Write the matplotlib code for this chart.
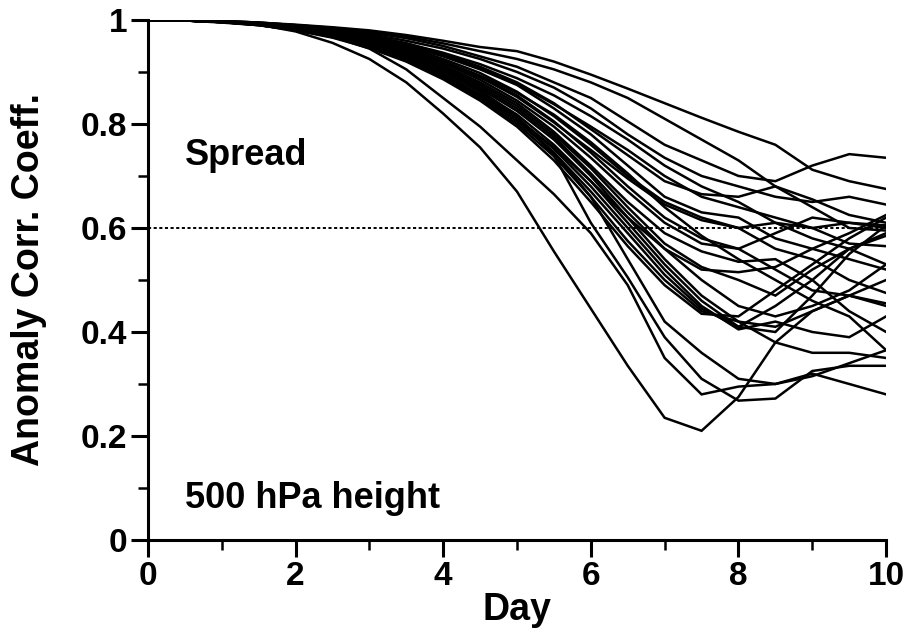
import matplotlib
matplotlib.use("Agg")
import matplotlib.pyplot as plt
from matplotlib.ticker import MultipleLocator

plt.rcParams['font.family'] = ['Liberation Sans', 'DejaVu Sans']
plt.rcParams['font.weight'] = 'bold'

# forecast day (every half day)
days = [0, 0.5, 1, 1.5, 2, 2.5, 3, 3.5, 4, 4.5, 5,
        5.5, 6, 6.5, 7, 7.5, 8, 8.5, 9, 9.5, 10]

# anomaly correlation of each ensemble member
m01 = [1.000, 0.999, 0.998, 0.995, 0.991, 0.986, 0.980, 0.971, 0.960, 0.948, 0.940,
       0.920, 0.895, 0.868, 0.840, 0.812, 0.785, 0.760, 0.712, 0.690, 0.675]
m02 = [1.000, 0.999, 0.998, 0.995, 0.990, 0.985, 0.978, 0.968, 0.955, 0.940, 0.925,
       0.905, 0.880, 0.850, 0.810, 0.770, 0.730, 0.680, 0.655, 0.625, 0.610]
m03 = [1.000, 0.999, 0.998, 0.995, 0.990, 0.984, 0.976, 0.965, 0.950, 0.930, 0.910,
       0.880, 0.850, 0.805, 0.760, 0.730, 0.700, 0.690, 0.720, 0.742, 0.735]
m04 = [1.000, 0.999, 0.997, 0.994, 0.989, 0.982, 0.973, 0.960, 0.945, 0.925, 0.900,
       0.870, 0.830, 0.780, 0.735, 0.700, 0.680, 0.660, 0.650, 0.660, 0.645]
m05 = [1.000, 0.999, 0.997, 0.994, 0.988, 0.980, 0.970, 0.955, 0.935, 0.910, 0.880,
       0.840, 0.790, 0.740, 0.690, 0.665, 0.660, 0.680, 0.640, 0.600, 0.595]
m06 = [1.000, 0.999, 0.997, 0.993, 0.987, 0.978, 0.966, 0.950, 0.930, 0.905, 0.875,
       0.830, 0.780, 0.720, 0.660, 0.630, 0.620, 0.580, 0.560, 0.590, 0.625]
m07 = [1.000, 0.999, 0.997, 0.993, 0.987, 0.977, 0.965, 0.948, 0.925, 0.898, 0.862,
       0.815, 0.760, 0.700, 0.650, 0.620, 0.600, 0.610, 0.600, 0.570, 0.565]
m08 = [1.000, 0.999, 0.997, 0.993, 0.986, 0.976, 0.963, 0.945, 0.920, 0.890, 0.855,
       0.805, 0.745, 0.680, 0.620, 0.580, 0.560, 0.520, 0.480, 0.470, 0.455]
m09 = [1.000, 0.999, 0.997, 0.992, 0.985, 0.975, 0.961, 0.942, 0.917, 0.885, 0.845,
       0.795, 0.735, 0.670, 0.610, 0.570, 0.560, 0.590, 0.620, 0.610, 0.600]
m10 = [1.000, 0.999, 0.997, 0.992, 0.985, 0.974, 0.960, 0.940, 0.913, 0.880, 0.840,
       0.785, 0.720, 0.650, 0.590, 0.555, 0.535, 0.540, 0.500, 0.440, 0.400]
m11 = [1.000, 0.999, 0.996, 0.992, 0.984, 0.973, 0.958, 0.937, 0.910, 0.876, 0.835,
       0.780, 0.715, 0.640, 0.570, 0.525, 0.500, 0.470, 0.520, 0.560, 0.585]
m12 = [1.000, 0.999, 0.996, 0.992, 0.984, 0.972, 0.956, 0.935, 0.907, 0.872, 0.830,
       0.775, 0.705, 0.630, 0.560, 0.500, 0.450, 0.430, 0.450, 0.480, 0.530]
m13 = [1.000, 0.999, 0.996, 0.991, 0.983, 0.971, 0.955, 0.932, 0.903, 0.868, 0.825,
       0.770, 0.700, 0.620, 0.540, 0.470, 0.420, 0.410, 0.440, 0.470, 0.450]
m14 = [1.000, 0.999, 0.996, 0.991, 0.983, 0.970, 0.953, 0.930, 0.900, 0.862, 0.818,
       0.760, 0.690, 0.610, 0.530, 0.460, 0.410, 0.400, 0.470, 0.550, 0.605]
m15 = [1.000, 0.999, 0.996, 0.991, 0.982, 0.969, 0.951, 0.927, 0.896, 0.857, 0.812,
       0.752, 0.680, 0.600, 0.520, 0.450, 0.405, 0.420, 0.400, 0.390, 0.430]
m16 = [1.000, 0.999, 0.996, 0.990, 0.981, 0.968, 0.949, 0.924, 0.892, 0.852, 0.805,
       0.745, 0.670, 0.590, 0.510, 0.445, 0.410, 0.450, 0.500, 0.560, 0.590]
m17 = [1.000, 0.999, 0.996, 0.990, 0.981, 0.967, 0.948, 0.922, 0.889, 0.848, 0.800,
       0.738, 0.660, 0.575, 0.500, 0.440, 0.420, 0.380, 0.360, 0.360, 0.350]
m18 = [1.000, 0.999, 0.995, 0.990, 0.980, 0.966, 0.946, 0.920, 0.886, 0.845, 0.795,
       0.730, 0.650, 0.565, 0.490, 0.435, 0.430, 0.480, 0.530, 0.580, 0.620]
m19 = [1.000, 0.999, 0.996, 0.991, 0.982, 0.969, 0.950, 0.925, 0.893, 0.855, 0.810,
       0.755, 0.690, 0.620, 0.560, 0.520, 0.515, 0.525, 0.560, 0.540, 0.520]
m20 = [1.000, 0.999, 0.997, 0.992, 0.985, 0.975, 0.962, 0.944, 0.920, 0.890, 0.852,
       0.803, 0.750, 0.695, 0.645, 0.615, 0.600, 0.560, 0.540, 0.500, 0.475]
m21 = [1.000, 0.999, 0.997, 0.993, 0.987, 0.978, 0.967, 0.952, 0.932, 0.907, 0.877,
       0.838, 0.795, 0.750, 0.700, 0.660, 0.640, 0.620, 0.600, 0.610, 0.605]
m22 = [1.000, 0.999, 0.997, 0.994, 0.988, 0.980, 0.969, 0.955, 0.937, 0.915, 0.888,
       0.855, 0.815, 0.770, 0.720, 0.680, 0.650, 0.610, 0.580, 0.560, 0.530]
m23 = [1.000, 0.999, 0.997, 0.993, 0.986, 0.976, 0.962, 0.944, 0.921, 0.893, 0.860,
       0.818, 0.765, 0.705, 0.640, 0.585, 0.540, 0.500, 0.460, 0.430, 0.365]
m24 = [1.000, 0.999, 0.997, 0.991, 0.978, 0.956, 0.925, 0.880, 0.820, 0.755, 0.670,
       0.555, 0.445, 0.335, 0.235, 0.210, 0.275, 0.380, 0.440, 0.470, 0.500]
m25 = [1.000, 0.999, 0.997, 0.993, 0.983, 0.968, 0.945, 0.905, 0.850, 0.795, 0.730,
       0.665, 0.590, 0.490, 0.350, 0.280, 0.295, 0.300, 0.315, 0.340, 0.365]
m26 = [1.000, 0.999, 0.997, 0.993, 0.985, 0.974, 0.958, 0.935, 0.905, 0.865, 0.815,
       0.740, 0.610, 0.505, 0.390, 0.310, 0.268, 0.272, 0.325, 0.335, 0.335]
m27 = [1.000, 0.999, 0.997, 0.993, 0.985, 0.973, 0.957, 0.934, 0.903, 0.862, 0.810,
       0.745, 0.660, 0.540, 0.420, 0.360, 0.310, 0.300, 0.320, 0.300, 0.280]

members = [m01, m02, m03, m04, m05, m06, m07, m08, m09, m10, m11, m12, m13, m14,
           m15, m16, m17, m18, m19, m20, m21, m22, m23, m24, m25, m26, m27]

threshold = 0.6

fig = plt.figure(figsize=(9.07, 6.38), dpi=100)
ax = fig.add_axes([0.163, 0.1536, 0.814, 0.8151])

for m in members:
    ax.plot(days, m, color='black', lw=1.8, solid_joinstyle='miter')

# 0.6 skill line
ax.axhline(threshold, color='black', lw=1.4, ls=(0, (1.6, 1.3)), zorder=1)

ax.set_xlim(0, 10)
ax.set_ylim(0, 1)

ax.xaxis.set_major_locator(MultipleLocator(2))
ax.xaxis.set_minor_locator(MultipleLocator(1))
ax.yaxis.set_minor_locator(MultipleLocator(0.1))
ax.set_yticks([0, 0.2, 0.4, 0.6, 0.8, 1])
ax.set_yticklabels(['0', '0.2', '0.4', '0.6', '0.8', '1'])

ax.spines['top'].set_visible(False)
ax.spines['right'].set_visible(False)
ax.spines['left'].set_linewidth(2.2)
ax.spines['bottom'].set_linewidth(2.2)

ax.tick_params(which='major', direction='out', length=12, width=2.2,
               labelsize=24, pad=3)
ax.tick_params(which='minor', direction='out', length=7, width=1.8)

ax.set_xlabel('Day', fontsize=27, fontweight='bold', labelpad=0)
ax.set_ylabel('Anomaly Corr. Coeff.', fontsize=27, fontweight='bold', labelpad=24)

ax.text(0.5, 0.74, 'Spread', fontsize=26, fontweight='bold', va='center')
ax.text(0.5, 0.08, '500 hPa height', fontsize=26, fontweight='bold', va='center')

fig.savefig('out.png', dpi=100)
